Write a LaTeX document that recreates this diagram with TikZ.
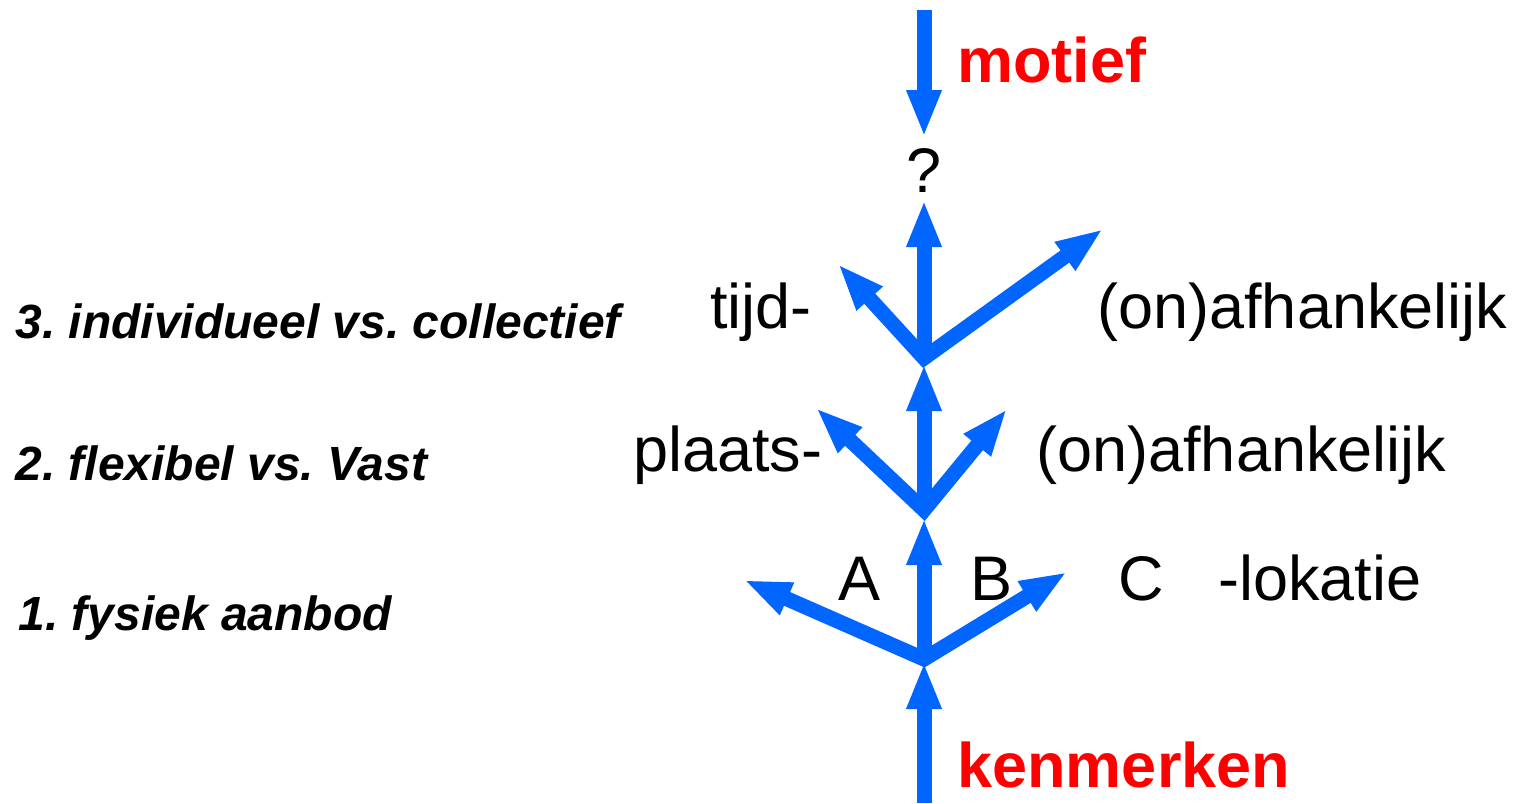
\documentclass[tikz,border=0pt]{standalone}
\usepackage{fontspec}
\setmainfont{Liberation Sans}
\usetikzlibrary{arrows.meta}
\definecolor{arrowblue}{RGB}{0,102,255}
\definecolor{labelred}{RGB}{255,0,0}
\tikzset{
  arr/.style={draw=arrowblue, line width=7.5pt, line join=miter, line cap=butt,
    arrows={-Triangle[length=23.5pt,width=16pt]}},
  varr/.style={draw=arrowblue, line width=7.5pt, line join=miter, line cap=butt,
    arrows={Triangle[length=23.5pt,width=16pt]-Triangle[length=23.5pt,width=16pt]}},
  big/.style={anchor=base west, inner sep=0pt, font=\fontsize{31.5}{36}\selectfont},
  bigred/.style={big, text=labelred, font=\fontsize{31.5}{36}\selectfont\bfseries},
  lvl/.style={anchor=base west, inner sep=0pt, font=\fontsize{24}{28}\selectfont\bfseries\itshape\frenchspacing},
}
\begin{document}
\begin{tikzpicture}[x=0.5pt,y=-0.5pt]
\useasboundingbox (0,0) rectangle (1519,803);
% coordinates
\coordinate (topstart) at (924,10);
\coordinate (toptip) at (924,137);
\coordinate (j3) at (924,358);
\coordinate (u3) at (924,200);
\coordinate (l3) at (838,264);
\coordinate (r3) at (1103,229);
\coordinate (j2) at (924,510);
\coordinate (u2) at (924,364);
\coordinate (l2) at (816,408);
\coordinate (r2) at (1007,409);
\coordinate (j1) at (924,659);
\coordinate (u1) at (924,518);
\coordinate (l1) at (744,580);
\coordinate (r1) at (1067,572);
\coordinate (botstart) at (924,803);
\coordinate (bottip) at (924,662);
% arrows
\draw[arr] (topstart) -- (toptip);
\draw[varr] (l3) -- (j3) -- (r3);
\draw[arr] (j3) -- (u3);
\draw[varr] (l2) -- (j2) -- (r2);
\draw[arr] (j2) -- (u2);
\draw[varr] (l1) -- (j1) -- (r1);
\draw[arr] (j1) -- (u1);
\draw[arr] (botstart) -- (bottip);
% texts
\node[bigred] (motief) at (957,82) {motief};
\node[bigred] (kenmerken) at (957,787) {kenmerken};
\node[anchor=base, inner sep=0pt, font=\fontsize{31.5}{36}\selectfont] (q) at (924,192) {?};
\node[big] (tijd) at (710,328) {tijd-};
\node[big] (onaf3) at (1097,328) {(on)afhankelijk};
\node[big] (plaats) at (633,471) {plaats-};
\node[big] (onaf2) at (1036,471) {(on)afhankelijk};
\node[big] (A) at (838,600) {A};
\node[big] (B) at (970,600) {B};
\node[big] (C) at (1118,600) {C};
\node[big] (lok) at (1218,600) {-lokatie};
\node[lvl] (lvl3) at (15,338) {3. individueel vs. collectief};
\node[lvl] (lvl2) at (15,480) {2. flexibel vs. Vast};
\node[lvl] (lvl1) at (18,630) {1. fysiek aanbod};
\end{tikzpicture}
\end{document}
